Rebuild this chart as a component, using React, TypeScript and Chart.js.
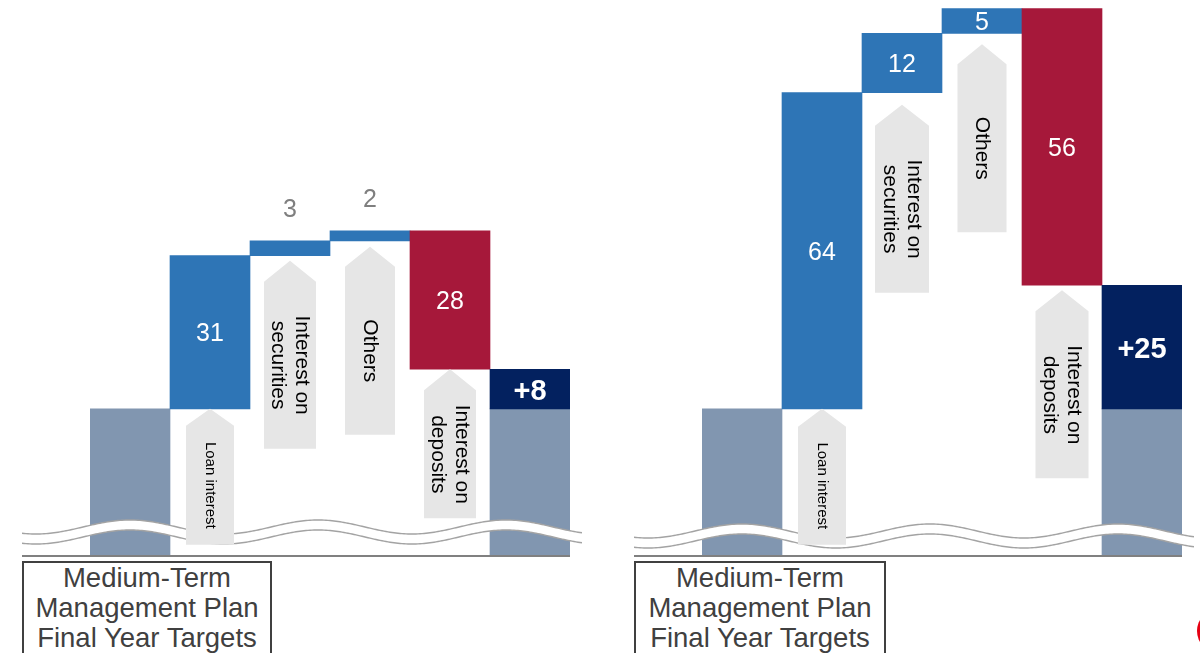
import React, { useEffect, useRef } from "react";
import { Chart, registerables } from "chart.js";

Chart.register(...registerables);

// ---------- data ----------
const categories = [
  "Medium-Term Management Plan Final Year Targets (before)",
  "Loan interest",
  "Interest on securities",
  "Others",
  "Interest on deposits",
  "Medium-Term Management Plan Final Year Targets (after)",
];
const arrowLabels: string[][] = [
  [],
  ["Loan interest"],
  ["Interest on", "securities"],
  ["Others"],
  ["Interest on", "deposits"],
  [],
];
const footerLines = ["Medium-Term", "Management Plan", "Final Year Targets"];

const leftBase = 30;
const leftChanges = [31, 3, 2, -28];
const rightBase = 30;
const rightChanges = [64, 12, 5, -56];
const yMax = 112.75;

// ---------- styles ----------
const FONT = "'Liberation Sans', Arial, Helvetica, sans-serif";
const COLORS = {
  base: "#8196b0",
  up: "#2e75b6",
  down: "#a6183a",
  result: "#03215f",
  arrow: "#e6e6e6",
  wave: "#a3a3a3",
  axis: "#808080",
  outLabel: "#7f7f7f",
};

type ArrowStyle = { gap: number; len: number; w: number; font: number; tri: number };
const leftArrowStyles: ArrowStyle[] = [
  { gap: 0, len: 136, w: 48, font: 15, tri: 17 },
  { gap: 5, len: 188, w: 52, font: 21, tri: 21 },
  { gap: 6, len: 188, w: 50, font: 21, tri: 20 },
  { gap: 0, len: 149, w: 52, font: 21, tri: 21 },
];
const rightArrowStyles: ArrowStyle[] = [
  { gap: 0, len: 136, w: 48, font: 15, tri: 18 },
  { gap: 12, len: 188, w: 54, font: 21, tri: 21 },
  { gap: 11, len: 188, w: 49, font: 21, tri: 20 },
  { gap: 5, len: 188, w: 53, font: 21, tri: 21 },
];

function buildBars(base: number, changes: number[]) {
  const ranges: [number, number][] = [[0, base]];
  let cum = base;
  for (const c of changes) {
    const next = cum + c;
    ranges.push([Math.min(cum, next), Math.max(cum, next)]);
    cum = next;
  }
  ranges.push([Math.min(base, cum), Math.max(base, cum)]);
  const colors = [
    COLORS.base,
    ...changes.map((c) => (c >= 0 ? COLORS.up : COLORS.down)),
    COLORS.result,
  ];
  return { ranges, colors, total: cum - base };
}

function makeChart(
  canvas: HTMLCanvasElement,
  base: number,
  changes: number[],
  arrowStyles: ArrowStyle[],
  padLeft: number,
  padRight: number,
  waveCenter: number
) {
  const { ranges, colors, total } = buildBars(base, changes);
  const resultBase: ([number, number] | null)[] = categories.map((_, i) =>
    i === categories.length - 1 ? [0, base] : null
  );

  const overlay = {
    id: "waterfallOverlay",
    afterDatasetsDraw(chart: any) {
      const ctx: CanvasRenderingContext2D = chart.ctx;
      const xs = chart.scales.x;
      const ys = chart.scales.y;
      const area = chart.chartArea;
      ctx.save();

      // wave (axis break)
      const x0 = area.left - 68;
      const x1 = area.right + 12;
      const A = 7;
      const P = 188;
      const band = 10;
      const f = (x: number) =>
        waveCenter - A * Math.cos((2 * Math.PI * (x - (area.left + 40))) / P);
      ctx.beginPath();
      for (let x = x0; x <= x1; x += 2) {
        if (x === x0) ctx.moveTo(x, f(x));
        else ctx.lineTo(x, f(x));
      }
      for (let x = x1; x >= x0; x -= 2) ctx.lineTo(x, f(x) + band);
      ctx.closePath();
      ctx.fillStyle = "#ffffff";
      ctx.fill();
      ctx.strokeStyle = COLORS.wave;
      ctx.lineWidth = 1.4;
      for (const off of [0, band]) {
        ctx.beginPath();
        for (let x = x0; x <= x1; x += 2) {
          if (x === x0) ctx.moveTo(x, f(x) + off);
          else ctx.lineTo(x, f(x) + off);
        }
        ctx.stroke();
      }

      // arrows with labels
      arrowStyles.forEach((st, k) => {
        const i = k + 1;
        const cx = xs.getPixelForValue(i);
        const tipY = ys.getPixelForValue(ranges[i][0]) + st.gap;
        const hw = st.w / 2;
        ctx.beginPath();
        ctx.moveTo(cx, tipY);
        ctx.lineTo(cx + hw, tipY + st.tri);
        ctx.lineTo(cx + hw, tipY + st.len);
        ctx.lineTo(cx - hw, tipY + st.len);
        ctx.lineTo(cx - hw, tipY + st.tri);
        ctx.closePath();
        ctx.fillStyle = COLORS.arrow;
        ctx.fill();

        const lines = arrowLabels[i];
        const cy = tipY + st.tri + (st.len - st.tri) / 2;
        ctx.save();
        ctx.translate(cx, cy);
        ctx.rotate(Math.PI / 2);
        ctx.fillStyle = "#000000";
        ctx.font = `${st.font}px ${FONT}`;
        ctx.textAlign = "center";
        ctx.textBaseline = "middle";
        const lh = st.font * 1.12;
        lines.forEach((ln, j) => {
          const off = (j - (lines.length - 1) / 2) * lh;
          ctx.fillText(ln, 0, off);
        });
        ctx.restore();
      });

      // axis line
      const y0 = ys.getPixelForValue(0) - 1;
      ctx.beginPath();
      ctx.moveTo(area.left - 68, y0);
      ctx.lineTo(area.right, y0);
      ctx.strokeStyle = COLORS.axis;
      ctx.lineWidth = 2;
      ctx.stroke();

      // value labels
      ctx.textAlign = "center";
      ctx.textBaseline = "middle";
      changes.forEach((c, k) => {
        const i = k + 1;
        const cx = xs.getPixelForValue(i);
        const top = ys.getPixelForValue(ranges[i][1]);
        const bot = ys.getPixelForValue(ranges[i][0]);
        ctx.font = `25px ${FONT}`;
        if (bot - top < 20) {
          ctx.fillStyle = COLORS.outLabel;
          ctx.fillText(String(Math.abs(c)), cx, top - 31);
        } else {
          ctx.fillStyle = "#ffffff";
          ctx.fillText(String(Math.abs(c)), cx, (top + bot) / 2 + 2);
        }
      });
      const ri = categories.length - 1;
      const rcx = xs.getPixelForValue(ri);
      const rtop = ys.getPixelForValue(ranges[ri][1]);
      const rbot = ys.getPixelForValue(ranges[ri][0]);
      ctx.font = `bold 29px ${FONT}`;
      ctx.fillStyle = "#ffffff";
      ctx.fillText((total >= 0 ? "+" : "") + total, rcx, (rtop + rbot) / 2 + 3);

      ctx.restore();
    },
  };

  return new Chart(canvas, {
    type: "bar",
    data: {
      labels: categories,
      datasets: [
        {
          label: "result base",
          data: resultBase as any,
          backgroundColor: COLORS.base,
          borderWidth: 0,
          barPercentage: 1,
          categoryPercentage: 1,
          grouped: false,
          order: 2,
        } as any,
        {
          label: "waterfall",
          data: ranges as any,
          backgroundColor: colors,
          borderWidth: 0,
          barPercentage: 1,
          categoryPercentage: 1,
          grouped: false,
          order: 1,
        } as any,
      ],
    },
    options: {
      animation: false,
      responsive: false,
      devicePixelRatio: 1,
      layout: { padding: { left: padLeft, right: padRight, top: 0, bottom: 96 } },
      plugins: { legend: { display: false }, tooltip: { enabled: false } },
      scales: {
        x: { type: "category", display: false, offset: true, grid: { display: false } },
        y: { type: "linear", display: false, min: 0, max: yMax },
      },
    },
    plugins: [overlay],
  });
}

const boxStyle = (left: number, width: number): React.CSSProperties => ({
  position: "absolute",
  left,
  top: 561,
  width,
  height: 110,
  boxSizing: "border-box",
  border: "2px solid #404040",
  color: "#404040",
  fontFamily: FONT,
  fontSize: 27.5,
  lineHeight: "30px",
  textAlign: "center",
  paddingTop: 0,
  background: "#ffffff",
});

export default function App() {
  const leftRef = useRef<HTMLCanvasElement | null>(null);
  const rightRef = useRef<HTMLCanvasElement | null>(null);

  useEffect(() => {
    const charts: Chart[] = [];
    if (leftRef.current)
      charts.push(makeChart(leftRef.current, leftBase, leftChanges, leftArrowStyles, 90, 30, 527));
    if (rightRef.current)
      charts.push(makeChart(rightRef.current, rightBase, rightChanges, rightArrowStyles, 102, 18, 531));
    return () => charts.forEach((c) => c.destroy());
  }, []);

  return (
    <div
      style={{
        position: "absolute",
        left: 0,
        top: 0,
        width: 1200,
        height: 653,
        overflow: "hidden",
        background: "#ffffff",
      }}
    >
      <canvas
        ref={leftRef}
        width={600}
        height={653}
        style={{ position: "absolute", left: 0, top: 0, width: 600, height: 653 }}
      />
      <canvas
        ref={rightRef}
        width={600}
        height={653}
        style={{ position: "absolute", left: 600, top: 0, width: 600, height: 653 }}
      />
      <div style={boxStyle(22, 250)}>
        {footerLines.map((l) => (
          <div key={l}>{l}</div>
        ))}
      </div>
      <div style={boxStyle(634, 252)}>
        {footerLines.map((l) => (
          <div key={l}>{l}</div>
        ))}
      </div>
      <div
        style={{
          position: "absolute",
          left: 1197,
          top: 609,
          width: 44,
          height: 44,
          borderRadius: "50%",
          background: "#e60012",
        }}
      />
    </div>
  );
}
